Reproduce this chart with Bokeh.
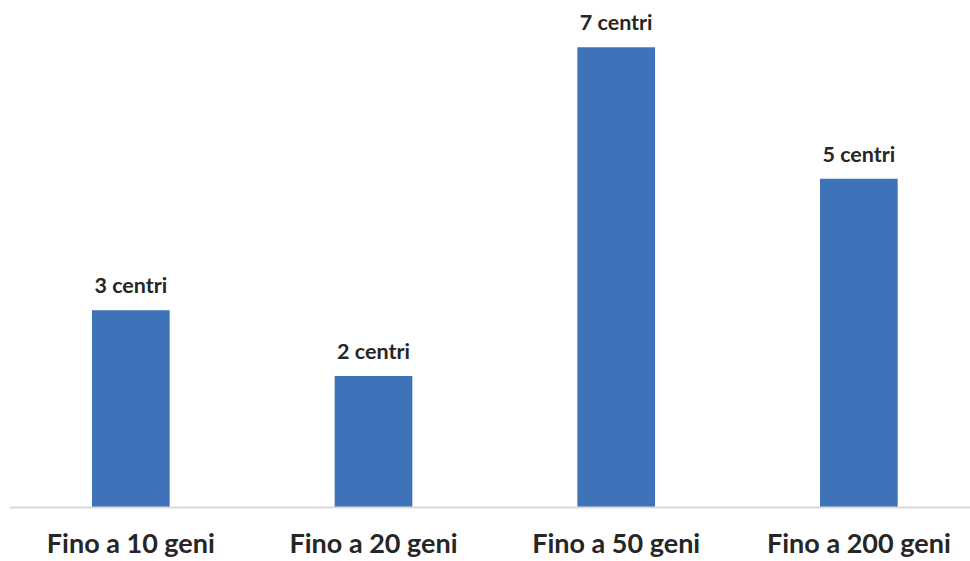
from bokeh.plotting import figure
from bokeh.models import ColumnDataSource, LabelSet, Range1d, FixedTicker
from bokeh.core.properties import value
from bokeh.embed import file_html
from bokeh.resources import INLINE

categories = ["Fino a 10 geni", "Fino a 20 geni", "Fino a 50 geni", "Fino a 200 geni"]
values = [3, 2, 7, 5]
labels = ["3 centri", "2 centri", "7 centri", "5 centri"]

xpos = [i + 0.5 for i in range(len(categories))]
src = ColumnDataSource(dict(x=xpos, cat=categories, val=values, lab=labels))

p = figure(x_range=Range1d(0, 3.96), y_range=Range1d(0, 7.71), width=970, height=561,
           output_backend="svg", toolbar_location=None, min_border=0,
           min_border_left=9, min_border_right=0, min_border_top=0)
p.outline_line_color = None
p.xgrid.grid_line_color = None
p.ygrid.grid_line_color = None
p.yaxis.visible = False

p.vbar(x="x", top="val", width=0.32, source=src, color="#3e73b9", line_color=None)

lbl = LabelSet(x="x", y="val", text="lab", source=src, text_align="center",
               text_baseline="bottom", y_offset=12, text_font=value("Lato"),
               text_font_style="bold", text_font_size="21.5px", text_color="#262626")
p.add_layout(lbl)

ax = p.xaxis[0]
ax.ticker = FixedTicker(ticks=xpos)
ax.major_label_overrides = {x: c for x, c in zip(xpos, categories)}
ax.axis_line_color = "#d9d9d9"
ax.axis_line_width = 2
ax.major_tick_line_color = None
ax.minor_tick_line_color = None
ax.major_label_standoff = 12
ax.major_label_text_font = "Lato"
ax.major_label_text_font_style = "bold"
ax.major_label_text_font_size = "27px"
ax.major_label_text_color = "#262626"

open("out.html", "w").write(file_html(p, INLINE))
